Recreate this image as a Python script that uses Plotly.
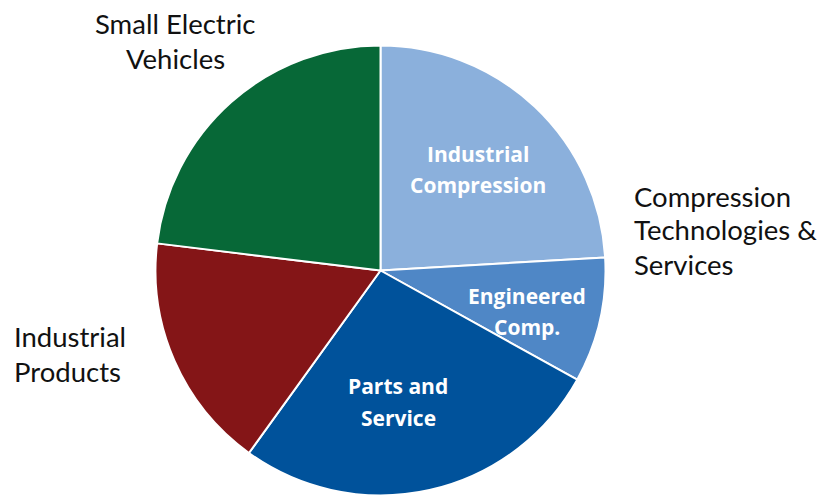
import plotly.graph_objects as go

# Segment shares (clockwise from 12 o'clock)
segments = ["Industrial Compression", "Engineered Comp.", "Parts and Service",
            "Industrial Products", "Small Electric Vehicles"]
shares = [24.1, 9.0, 26.9, 17.0, 23.1]
colors = ["#8BB0DC", "#4F87C6", "#00529B", "#841517", "#076837"]

W, H = 818, 496
cx, cy, r = 380.5, 270.5, 225

fig = go.Figure(go.Pie(
    labels=segments,
    values=shares,
    sort=False,
    direction="clockwise",
    rotation=0,
    textinfo="none",
    hoverinfo="label+percent",
    marker=dict(colors=colors, line=dict(color="white", width=2)),
    domain=dict(x=[(cx - r) / W, (cx + r) / W], y=[1 - (cy + r) / H, 1 - (cy - r) / H]),
    showlegend=False,
))

def px(x, y):
    return x / W, 1 - y / H

inner_font = dict(family="Open Sans", size=21, color="white")
outer_font = dict(family="Lato", size=27.5, color="#111111")

def add_lines(lines, x, y0, step, font, xanchor, bold=False):
    for i, line in enumerate(lines):
        ax, ay = px(x, y0 + i * step)
        txt = f"<b>{line}</b>" if bold else line
        fig.add_annotation(x=ax, y=ay, xref="paper", yref="paper", text=txt,
                           showarrow=False, font=font, xanchor=xanchor,
                           yanchor="middle")

# Labels drawn inside slices
add_lines(["Industrial", "Compression"], 478, 154, 31, inner_font, "center", True)
add_lines(["Engineered", "Comp."], 527, 296, 31, inner_font, "center", True)
add_lines(["Parts and", "Service"], 398, 386, 32, inner_font, "center", True)

# Group labels outside the pie
add_lines(["Small Electric", "Vehicles"], 175, 23, 35, outer_font, "center")
add_lines(["Compression", "Technologies &amp;", "Services"], 632, 196, 34, outer_font, "left")
add_lines(["Industrial", "Products"], 12, 336, 35, outer_font, "left")

fig.update_layout(width=W, height=H, margin=dict(l=0, r=0, t=0, b=0),
                  paper_bgcolor="white", plot_bgcolor="white")

fig.write_html("out.html")
